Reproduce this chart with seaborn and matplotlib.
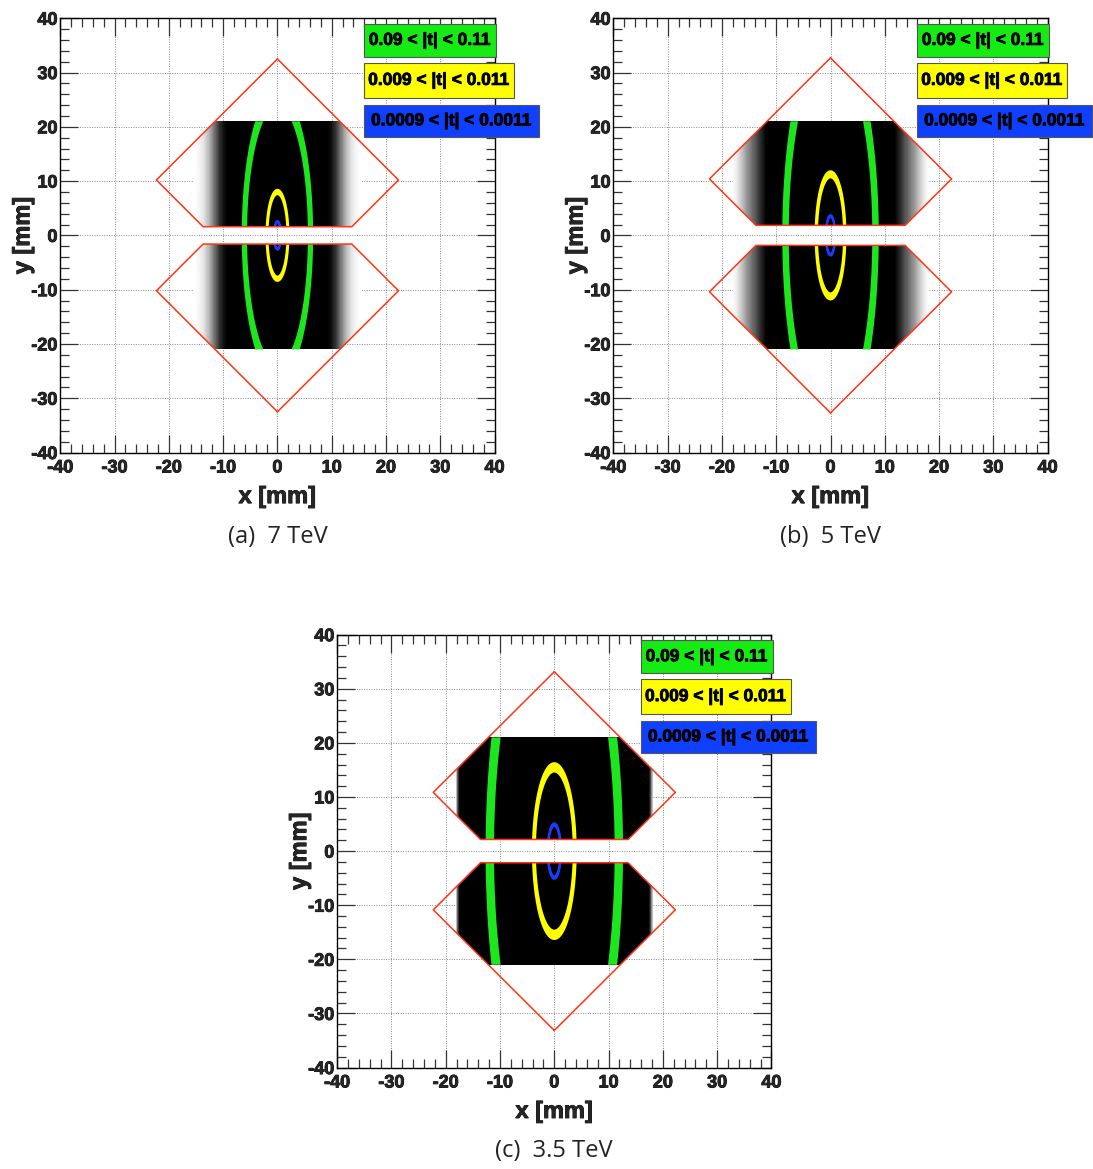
import numpy as np
import matplotlib
matplotlib.use("Agg")
import matplotlib.pyplot as plt
import matplotlib.patheffects as pe
from matplotlib.path import Path
from matplotlib.patches import PathPatch, Rectangle
from matplotlib.colors import LinearSegmentedColormap
from matplotlib.ticker import MultipleLocator
import seaborn as sns

sns.set_theme(style="white")
plt.rcParams["font.family"] = ["Liberation Sans", "DejaVu Sans"]
plt.rcParams["font.sans-serif"] = ["Liberation Sans"]
plt.rcParams["font.weight"] = "bold"

ROOT_FONT = dict(family="Liberation Sans", weight="bold")
heavy = [pe.withStroke(linewidth=0.6, foreground="black")]

captions = ["(a)  7 TeV", "(b)  5 TeV", "(c)  3.5 TeV"]

# roman pot outline: centre height of the diamond, inner edge, half diagonal [mm]
det_center = [10.2, 10.4, 10.85]
det_edge = [1.6, 1.85, 2.15]
det_half = 22.3
cloud_ymax = 21.0

# hit cloud density across |x| (1 = fully black)
cloud_x = [
    [0, 9.2, 9.9, 10.6, 11.3, 12.0, 12.8, 13.6, 14.4, 15.3],
    [0, 11.8, 12.6, 13.6, 14.6, 15.6, 16.5, 17.3, 18.0],
    [0, 17.4, 17.8, 18.2],
]
cloud_d = [
    [1, 1, 0.94, 0.82, 0.64, 0.44, 0.25, 0.11, 0.04, 0],
    [1, 1, 0.88, 0.7, 0.54, 0.38, 0.2, 0.08, 0],
    [1, 1, 0.7, 0],
]

# ellipse semi axes for |t| = 0.1 [mm]
ell_a = [6.1, 8.3, 11.9]
ell_b = [25.3, 35.6, 49.0]

t_lo = [0.09, 0.009, 0.0009]
t_hi = [0.11, 0.011, 0.0011]
t_labels = ["0.09 < |t| < 0.11", "0.009 < |t| < 0.011", "0.0009 < |t| < 0.0011"]
band_colors = ["#1ee61e", "#ffff00", "#1a3cff"]
box_colors = ["#14ec14", "#ffff00", "#1040ff"]
red = "#ff3414"

# axes boxes in figure fraction
axes_pos = [
    [0.0552, 0.6129, 0.3973, 0.3715],
    [0.5612, 0.6129, 0.3973, 0.3715],
    [0.3085, 0.0868, 0.3973, 0.3703],
]
caption_pos = [(0.2539, 0.5406), (0.7599, 0.5406), (0.5069, 0.0154)]

# legend boxes in axes fraction
box_x0 = 0.6993
box_x1 = [1.0032, 1.0447, 1.1022]
box_y0 = [0.9114, 0.8163, 0.7265]
box_y1 = [0.9866, 0.8975, 0.8008]

cloud_cmap = LinearSegmentedColormap.from_list("cloud", ["white", "black"])


def outline(yc, gap, s):
    c = det_half - (yc - gap)
    xs = [0, det_half, c, -c, -det_half, 0]
    ys = [s * (yc + det_half), s * yc, s * gap, s * gap, s * yc, s * (yc + det_half)]
    return xs, ys


def region(yc, gap, s):
    c = det_half - (yc - gap)
    x21 = det_half - (cloud_ymax - yc)
    xs = [-c, c, det_half, x21, -x21, -det_half, -c]
    ys = [gap, gap, yc, cloud_ymax, cloud_ymax, yc, gap]
    return np.column_stack([xs, np.array(ys) * s])


def ellipse(a, b, reverse=False):
    th = np.linspace(0, 2 * np.pi, 400)
    if reverse:
        th = th[::-1]
    return np.column_stack([a * np.cos(th), b * np.sin(th)])


fig = plt.figure(figsize=(10.93, 11.69), dpi=100)

xe = np.arange(-24, 24.001, 0.1)
ye = np.arange(-22, 22.001, 0.1)
xc = (xe[:-1] + xe[1:]) / 2
yc_ = (ye[:-1] + ye[1:]) / 2
X, Y = np.meshgrid(xc, yc_)
X = X.ravel()
Y = Y.ravel()

for i in range(3):
    ax = fig.add_axes(axes_pos[i])
    yc, gap = det_center[i], det_edge[i]

    clip = Path.make_compound_path(Path(region(yc, gap, 1), closed=True),
                                   Path(region(yc, gap, -1), closed=True))
    inside = clip.contains_points(np.column_stack([X, Y]))
    w = np.interp(np.abs(X), cloud_x[i], cloud_d[i]) * inside

    sns.histplot(x=X, y=Y, weights=w, bins=[xe, ye], cmap=cloud_cmap,
                 vmin=0, vmax=1, ax=ax, zorder=1)

    for k in range(3):
        f_lo = np.sqrt(t_lo[k] / 0.1)
        f_hi = np.sqrt(t_hi[k] / 0.1)
        outer = ellipse(ell_a[i] * f_hi, ell_b[i] * f_hi)
        inner = ellipse(ell_a[i] * f_lo, ell_b[i] * f_lo, reverse=True)
        band = Path.make_compound_path(Path(outer, closed=True), Path(inner, closed=True))
        p = PathPatch(band, facecolor=band_colors[k], edgecolor=band_colors[k],
                      lw=1.4, zorder=3)
        ax.add_patch(p)
        p.set_clip_path(clip, ax.transData)

    for s in (1, -1):
        ox, oy = outline(yc, gap, s)
        sns.lineplot(x=ox, y=oy, sort=False, estimator=None, color=red, lw=1.1,
                     ax=ax, zorder=5)

    ax.set_xlim(-40, 40)
    ax.set_ylim(-40, 40)
    ax.xaxis.set_minor_locator(MultipleLocator(2))
    ax.yaxis.set_minor_locator(MultipleLocator(2))
    ax.tick_params(which="major", direction="in", length=13, width=0.9, color="#333333",
                   top=True, right=True, bottom=True, left=True)
    ax.tick_params(which="minor", direction="in", length=6.5, width=0.9, color="#333333",
                   top=True, right=True, bottom=True, left=True)
    ax.tick_params(axis="x", pad=5)
    ax.tick_params(axis="y", pad=2)
    ax.set_xticks(np.arange(-40, 41, 10))
    ax.set_yticks(np.arange(-40, 41, 10))
    ax.set_xticklabels([str(v) for v in range(-40, 41, 10)], fontsize=13,
                       path_effects=heavy, **ROOT_FONT)
    ax.set_yticklabels([str(v) for v in range(-40, 41, 10)], fontsize=13,
                       path_effects=heavy, **ROOT_FONT)
    ax.grid(True, which="major", color="#888888", linestyle=(0, (1, 1.5)), lw=0.7)
    ax.set_axisbelow(True)
    for sp in ax.spines.values():
        sp.set_color("black")
        sp.set_linewidth(1.0)
        sp.set_zorder(6)

    ax.set_xlabel("x [mm]", fontsize=17, path_effects=heavy, **ROOT_FONT)
    ax.set_ylabel("y [mm]", fontsize=17, path_effects=heavy, **ROOT_FONT)
    ax.xaxis.set_label_coords(0.5, -0.075)
    ax.yaxis.set_label_coords(-0.06, 0.5)

    for k in range(3):
        ax.add_patch(Rectangle((box_x0, box_y0[k]), box_x1[k] - box_x0, box_y1[k] - box_y0[k],
                               transform=ax.transAxes, clip_on=False, facecolor=box_colors[k],
                               edgecolor="#555555", lw=0.8, zorder=10))
        ax.text((box_x0 + box_x1[k]) / 2, (box_y0[k] + box_y1[k]) / 2, t_labels[k],
                transform=ax.transAxes, ha="center", va="center", fontsize=12.5,
                color="black", zorder=11, clip_on=False, path_effects=heavy, **ROOT_FONT)

    fig.text(caption_pos[i][0], caption_pos[i][1], captions[i], ha="center", va="center",
             fontsize=17, fontweight="normal", family=["Open Sans", "DejaVu Sans"],
             color="#222222")

fig.savefig("out.png", dpi=100)
